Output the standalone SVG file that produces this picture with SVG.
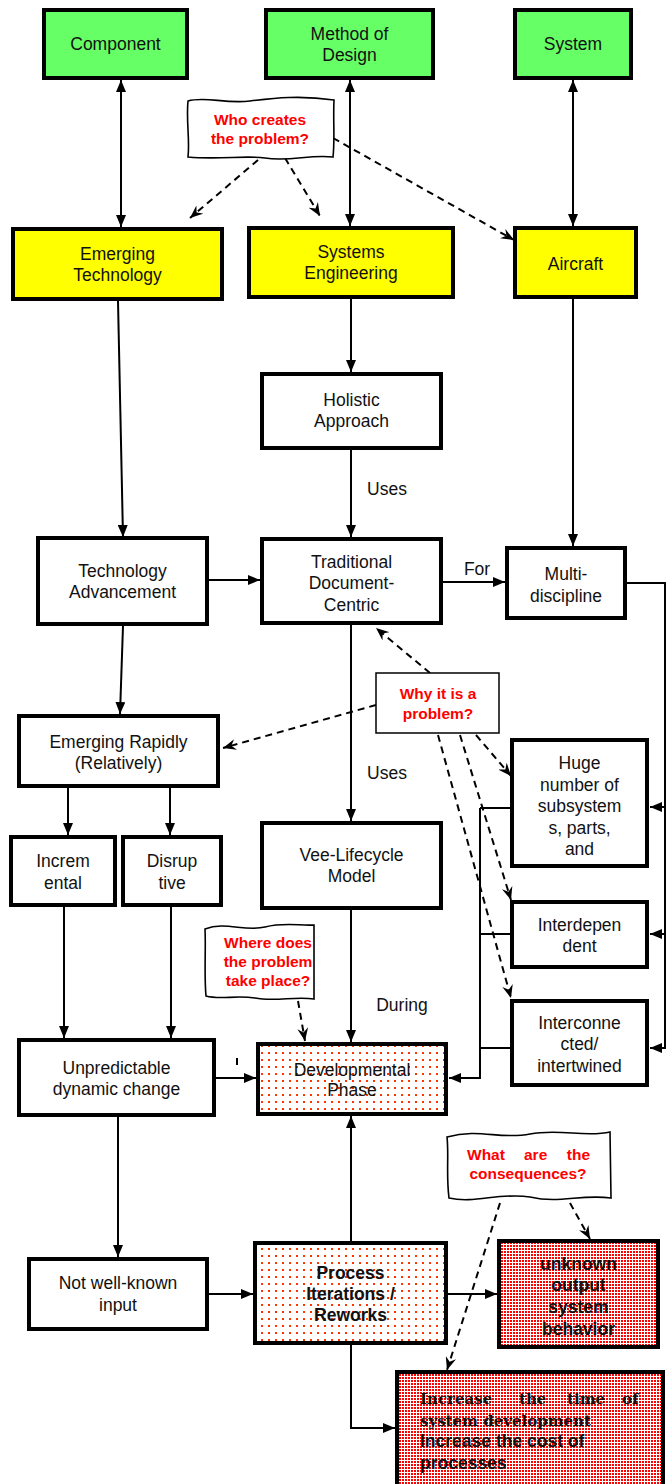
<svg xmlns="http://www.w3.org/2000/svg" width="669" height="1484" viewBox="0 0 669 1484">
  <style>
    .box { stroke: #000; stroke-width: 4; }
    .green { fill: #66FF66; }
    .yellow { fill: #FFFF00; }
    .white { fill: #FFFFFF; }
    .thin { fill: #FFFFFF; stroke: #000; stroke-width: 1.5; }
    .wavy { fill: #FFFFFF; stroke: #000; stroke-width: 1.6; }
    .lbl { font-family: "Liberation Sans", Arial, sans-serif; font-size: 17.5px; fill: #111; text-anchor: middle; }
    .bold { font-family: "Liberation Sans", Arial, sans-serif; font-size: 17.5px; font-weight: bold; fill: #111; text-anchor: middle; }
    .q { font-family: "Liberation Sans", Arial, sans-serif; font-size: 15.5px; font-weight: bold; fill: #FF0000; text-anchor: middle; }
    .q.start { text-anchor: start; }
    .q.end { text-anchor: end; }
    .serifb { font-family: "DejaVu Serif", "Liberation Serif", serif; font-size: 15px; font-weight: bold; fill: #111; }
    .sansb { font-family: "Liberation Sans", Arial, sans-serif; font-size: 17.5px; font-weight: bold; fill: #111; }
    .edge { fill: none; stroke: #000; stroke-width: 2; }
    .dash { fill: none; stroke: #000; stroke-width: 2; stroke-dasharray: 7 5; }
  </style>
  <defs>
    <marker id="arr" viewBox="0 0 12 10" refX="12" refY="5" markerWidth="12" markerHeight="10" markerUnits="userSpaceOnUse" orient="auto-start-reverse">
      <path d="M0,0 L12,5 L0,10 Z" fill="#000"/>
    </marker>
    <marker id="darr" viewBox="0 0 12 10" refX="12" refY="5" markerWidth="13" markerHeight="11" markerUnits="userSpaceOnUse" orient="auto">
      <path d="M0,0 L12,5 L0,10 L4,5 Z" fill="#000"/>
    </marker>
    <pattern id="dotsSparse" width="7" height="7" patternUnits="userSpaceOnUse">
      <rect width="7" height="7" fill="#FFFFFF"/>
      <rect x="2" y="2" width="2" height="2" fill="#FF3300"/>
    </pattern>
    <pattern id="dotsDense" width="3" height="3" patternUnits="userSpaceOnUse">
      <rect width="3" height="3" fill="#FFFFFF"/>
      <rect x="0" y="0" width="2" height="2" fill="#FF0000"/>
    </pattern>
  </defs>

  <!-- connectors -->
  <g id="connectors">
    <path class="edge" d="M121,80 L121,227" marker-start="url(#arr)" marker-end="url(#arr)"/>
    <path class="edge" d="M350,80 L350,226" marker-start="url(#arr)" marker-end="url(#arr)"/>
    <path class="edge" d="M573,80 L573,226" marker-start="url(#arr)" marker-end="url(#arr)"/>
    <path class="dash" d="M258,160 L190,218" marker-end="url(#darr)"/>
    <path class="dash" d="M285,158 L320,216" marker-end="url(#darr)"/>
    <path class="dash" d="M333,138 L514,240" marker-end="url(#darr)"/>
    <path class="edge" d="M118,301 L123,537" marker-end="url(#arr)"/>
    <path class="edge" d="M351,299 L351,372" marker-end="url(#arr)"/>
    <path class="edge" d="M351,450 L351,537" marker-end="url(#arr)"/>
    <path class="edge" d="M573,299 L573,546" marker-end="url(#arr)"/>
    <path class="edge" d="M209,580 L260,580" marker-end="url(#arr)"/>
    <path class="edge" d="M443,582 L505,582" marker-end="url(#arr)"/>
    <path class="edge" d="M123,626 L120,714" marker-end="url(#arr)"/>
    <path class="edge" d="M351,625 L351,821" marker-end="url(#arr)"/>
    <path class="dash" d="M430,673 L376,628" marker-end="url(#darr)"/>
    <path class="dash" d="M376,705 L223,748" marker-end="url(#darr)"/>
    <path class="dash" d="M476,735 L511,776" marker-end="url(#darr)"/>
    <path class="dash" d="M460,735 L511,900" marker-end="url(#darr)"/>
    <path class="dash" d="M438,735 L511,998" marker-end="url(#darr)"/>
    <!-- right-hand feed from Multi-discipline -->
    <path class="edge" d="M627,583 H665 V1048 H650" marker-end="url(#arr)"/>
    <path class="edge" d="M665,807 H650" marker-end="url(#arr)"/>
    <path class="edge" d="M665,934 H650" marker-end="url(#arr)"/>
    <!-- left-hand bus into Developmental Phase -->
    <path class="edge" d="M511,808 H480"/>
    <path class="edge" d="M511,934 H480"/>
    <path class="edge" d="M511,1048 H480"/>
    <path class="edge" d="M480,808 V1078 H449" marker-end="url(#arr)"/>
    <path class="edge" d="M68,788 V835" marker-end="url(#arr)"/>
    <path class="edge" d="M170,788 V835" marker-end="url(#arr)"/>
    <path class="edge" d="M64,907 V1038" marker-end="url(#arr)"/>
    <path class="edge" d="M171,907 V1038" marker-end="url(#arr)"/>
    <path class="edge" d="M216,1078 H256" marker-end="url(#arr)"/>
    <path class="edge" d="M237,1058 V1065"/>
    <path class="edge" d="M351,910 V1042" marker-end="url(#arr)"/>
    <path class="dash" d="M298,1001 L305,1041" marker-end="url(#darr)"/>
    <path class="edge" d="M118,1117 V1257" marker-end="url(#arr)"/>
    <path class="edge" d="M209,1294 H253" marker-end="url(#arr)"/>
    <path class="edge" d="M351,1241 V1116" marker-end="url(#arr)"/>
    <path class="edge" d="M448,1294 H497" marker-end="url(#arr)"/>
    <path class="edge" d="M351,1345 V1428 H395" marker-end="url(#arr)"/>
    <path class="dash" d="M570,1203 L590,1239" marker-end="url(#darr)"/>
    <path class="dash" d="M500,1203 L447,1370" marker-end="url(#darr)"/>
    <text class="lbl" x="387" y="495">Uses</text>
    <text class="lbl" x="477" y="575">For</text>
    <text class="lbl" x="387" y="779">Uses</text>
    <text class="lbl" x="402" y="1011">During</text>
  </g>

  <g id="component">
    <rect class="box green" x="44" y="10" width="143" height="68"/>
    <text class="lbl" x="115.5" y="50">Component</text>
  </g>
  <g id="method-of-design">
    <rect class="box green" x="266" y="10" width="167" height="68"/>
    <text class="lbl" x="349.5" y="40">Method of</text>
    <text class="lbl" x="349.5" y="61">Design</text>
  </g>
  <g id="system">
    <rect class="box green" x="515" y="10" width="116" height="68"/>
    <text class="lbl" x="573" y="50">System</text>
  </g>

  <g id="who-creates">
    <path class="wavy" d="M188,101 C205,96 225,104 250,101 C275,98 300,95 334,100 C333,120 335,140 333,157 C310,154 290,162 265,158 C245,155 220,160 188,157 C190,140 186,120 188,101 Z"/>
    <text class="q" x="260" y="125">Who creates</text>
    <text class="q" x="260" y="144">the problem?</text>
  </g>

  <g id="emerging-technology">
    <rect class="box yellow" x="13" y="229" width="209" height="70"/>
    <text class="lbl" x="117.5" y="260">Emerging</text>
    <text class="lbl" x="117.5" y="281">Technology</text>
  </g>
  <g id="systems-engineering">
    <rect class="box yellow" x="249" y="228" width="204" height="69"/>
    <text class="lbl" x="351" y="258">Systems</text>
    <text class="lbl" x="351" y="279">Engineering</text>
  </g>
  <g id="aircraft">
    <rect class="box yellow" x="515" y="228" width="121" height="69"/>
    <text class="lbl" x="575.5" y="270">Aircraft</text>
  </g>

  <g id="holistic-approach">
    <rect class="box white" x="262" y="374" width="179" height="74"/>
    <text class="lbl" x="351.5" y="406">Holistic</text>
    <text class="lbl" x="351.5" y="427">Approach</text>
  </g>

  <g id="technology-advancement">
    <rect class="box white" x="38" y="538" width="169" height="86"/>
    <text class="lbl" x="122.5" y="577">Technology</text>
    <text class="lbl" x="122.5" y="598">Advancement</text>
  </g>
  <g id="traditional-document-centric">
    <rect class="box white" x="262" y="539" width="179" height="84"/>
    <text class="lbl" x="351.5" y="568">Traditional</text>
    <text class="lbl" x="351.5" y="589">Document-</text>
    <text class="lbl" x="351.5" y="611">Centric</text>
  </g>
  <g id="multi-discipline">
    <rect class="box white" x="507" y="548" width="118" height="70"/>
    <text class="lbl" x="566" y="580">Multi-</text>
    <text class="lbl" x="566" y="602">discipline</text>
  </g>

  <g id="why-problem">
    <rect class="thin" x="376" y="673" width="123" height="60"/>
    <text class="q" x="438" y="699">Why it is a</text>
    <text class="q" x="438" y="719">problem?</text>
  </g>

  <g id="emerging-rapidly">
    <rect class="box white" x="19" y="716" width="199" height="70"/>
    <text class="lbl" x="118.5" y="748">Emerging Rapidly</text>
    <text class="lbl" x="118.5" y="769">(Relatively)</text>
  </g>

  <g id="huge-number">
    <rect class="box white" x="512" y="740" width="135" height="126"/>
    <text class="lbl" x="579.5" y="769">Huge</text>
    <text class="lbl" x="579.5" y="791">number of</text>
    <text class="lbl" x="579.5" y="812">subsystem</text>
    <text class="lbl" x="579.5" y="834">s, parts,</text>
    <text class="lbl" x="579.5" y="855">and</text>
  </g>

  <g id="incremental">
    <rect class="box white" x="11" y="837" width="104" height="68"/>
    <text class="lbl" x="63" y="867">Increm</text>
    <text class="lbl" x="63" y="889">ental</text>
  </g>
  <g id="disruptive">
    <rect class="box white" x="123" y="837" width="98" height="68"/>
    <text class="lbl" x="172" y="867">Disrup</text>
    <text class="lbl" x="172" y="889">tive</text>
  </g>

  <g id="vee-lifecycle">
    <rect class="box white" x="262" y="823" width="179" height="85"/>
    <text class="lbl" x="351.5" y="861">Vee-Lifecycle</text>
    <text class="lbl" x="351.5" y="882">Model</text>
  </g>

  <g id="interdependent">
    <rect class="box white" x="512" y="902" width="135" height="65"/>
    <text class="lbl" x="579.5" y="931">Interdepen</text>
    <text class="lbl" x="579.5" y="952">dent</text>
  </g>
  <g id="interconnected">
    <rect class="box white" x="512" y="1001" width="135" height="84"/>
    <text class="lbl" x="579.5" y="1029">Interconne</text>
    <text class="lbl" x="579.5" y="1050">cted/</text>
    <text class="lbl" x="579.5" y="1072">intertwined</text>
  </g>

  <g id="where-does">
    <path class="wavy" d="M205,929 C225,921 245,932 265,927 C285,922 300,926 314,925 L314,999 C295,996 275,1002 255,998 C235,995 220,1000 206,996 C204,975 206,950 205,929 Z"/>
    <text class="q" x="268" y="948">Where does</text>
    <text class="q" x="268" y="967">the problem</text>
    <text class="q" x="268" y="986">take place?</text>
  </g>

  <g id="unpredictable-change">
    <rect class="box white" x="19" y="1040" width="195" height="75"/>
    <text class="lbl" x="116.5" y="1074">Unpredictable</text>
    <text class="lbl" x="116.5" y="1095">dynamic change</text>
  </g>

  <g id="developmental-phase">
    <rect class="box" fill="url(#dotsSparse)" x="258" y="1044" width="188" height="70"/>
    <text class="lbl" x="352" y="1076">Developmental</text>
    <text class="lbl" x="352" y="1096">Phase</text>
  </g>

  <g id="what-consequences">
    <path class="wavy" d="M447,1137 C480,1128 500,1140 530,1134 C560,1128 585,1138 610,1132 L611,1198 C580,1194 560,1204 530,1197 C500,1192 475,1204 449,1198 C446,1175 449,1155 447,1137 Z"/>
    <text class="q start" x="467" y="1160">What</text>
    <text class="q start" x="524" y="1160">are</text>
    <text class="q end" x="590" y="1160">the</text>
    <text class="q" x="528" y="1179">consequences?</text>
  </g>

  <g id="not-well-known-input">
    <rect class="box white" x="29" y="1259" width="178" height="70"/>
    <text class="lbl" x="118" y="1289">Not well-known</text>
    <text class="lbl" x="118" y="1311">input</text>
  </g>

  <g id="process-iterations">
    <rect class="box" fill="url(#dotsSparse)" x="255" y="1243" width="191" height="100"/>
    <text class="bold" x="350.5" y="1279">Process</text>
    <text class="bold" x="350.5" y="1300">Iterations /</text>
    <text class="bold" x="350.5" y="1321">Reworks</text>
  </g>

  <g id="unknown-output">
    <rect class="box" fill="url(#dotsDense)" x="499" y="1241" width="159" height="106"/>
    <text class="bold" x="578.5" y="1270">unknown</text>
    <text class="bold" x="578.5" y="1291">output</text>
    <text class="bold" x="578.5" y="1313">system</text>
    <text class="bold" x="578.5" y="1335">behavior</text>
  </g>

  <g id="increase-time-cost">
    <rect class="box" fill="url(#dotsDense)" x="397" y="1372" width="266" height="116"/>
    <text class="serifb" x="420" y="1404">Increase</text>
    <text class="serifb" x="519" y="1404">the</text>
    <text class="serifb" x="567" y="1404">time</text>
    <text class="serifb" x="622" y="1404">of</text>
    <text class="serifb" x="420" y="1426">system development</text>
    <text class="sansb" x="420" y="1447">Increase the cost of</text>
    <text class="sansb" x="420" y="1469">processes</text>
  </g>
</svg>
